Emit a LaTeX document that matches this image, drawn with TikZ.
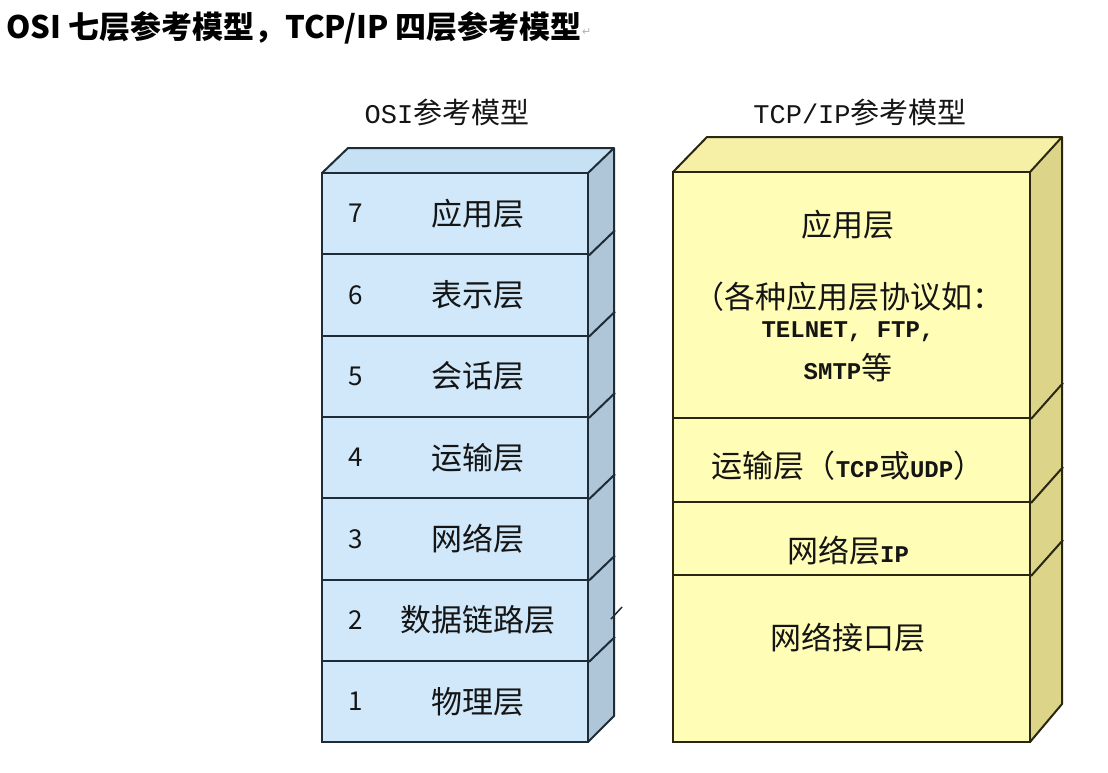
\documentclass[tikz,border=0pt]{standalone}
\usepackage{fontspec}
\setmainfont{Noto Sans CJK SC}
\newfontfamily\cjk{Noto Sans CJK SC}
\newfontfamily\latmono{Liberation Mono}
\newfontfamily\symfont{DejaVu Sans}
\definecolor{osifront}{HTML}{D0E8F9}
\definecolor{osiside}{HTML}{AFC6D8}
\definecolor{ositop}{HTML}{C6E1F3}
\definecolor{osiline}{HTML}{1E2C38}
\definecolor{tcpfront}{HTML}{FFFDB6}
\definecolor{tcpside}{HTML}{DCD488}
\definecolor{tcptop}{HTML}{F6F0A6}
\definecolor{tcpline}{HTML}{2A2612}
\definecolor{txt}{HTML}{151515}
\tikzset{
  osilayer/.style={draw=osiline, fill=osifront, line width=2pt, minimum width=266pt, minimum height=81.3pt, inner sep=0pt},
  tcplayer/.style={draw=tcpline, fill=tcpfront, line width=2pt, minimum width=357pt, inner sep=0pt},
  lbl/.style={font=\cjk\fontsize{31}{33}\selectfont, text=txt, inner sep=0pt},
  num/.style={font=\cjk\fontsize{26}{28}\selectfont, text=txt, inner sep=0pt},
  head/.style={font=\fontsize{29}{31}\selectfont, text=txt, inner sep=0pt},
  monotxt/.style={},
}
\newcommand{\mtxt}[1]{{\latmono\bfseries\fontsize{24}{26}\selectfont #1}}
\begin{document}
\begin{tikzpicture}[x=1pt,y=-1pt]
\useasboundingbox[fill=white] (0,0) rectangle (1108,772);
% main title
\node[anchor=west, inner sep=0pt, font=\cjk\bfseries\fontsize{31}{33}\selectfont] (title) at (6,28) {OSI 七层参考模型，TCP/IP 四层参考模型};
\node[anchor=west, inner sep=0pt, text=gray!60, font=\symfont\fontsize{11}{12}\selectfont] (pmark) at ([yshift=-4pt]title.east) {↵};

% ---------------- OSI model ----------------
\node[head] (osihead) at (447,112) {{\latmono\fontsize{27}{29}\selectfont OSI}参考模型};
% side and top faces
\fill[osiside] (588,173) -- (614,148) -- (614,716) -- (588,742) -- cycle;
\fill[ositop] (322,173) -- (348,148) -- (614,148) -- (588,173) -- cycle;
\draw[osiline, line width=2pt, line join=round] (322,173) -- (348,148) -- (614,148) -- (588,173);
\draw[osiline, line width=2pt, line join=round] (614,148) -- (614,716) -- (588,742);
\foreach \n/\name [count=\i from 0] in {7/应用层,6/表示层,5/会话层,4/运输层,3/网络层,2/数据链路层,1/物理层}{
  \pgfmathsetmacro{\yc}{173+81.3*\i+40.65}
  \node[osilayer] (o\n) at (455,\yc) {};
  \node[num] (on\n) at (356,\yc) {\n};
  \node[lbl] (ol\n) at (478,\yc) {\name};
}
\foreach \n in {7,6,5,4,3,2}{
  \draw[osiline, line width=2pt] (o\n.south east) -- ++(26,-25);
}
\draw[osiline, line width=1.5pt] (611,619) -- (622,607);

% ---------------- TCP/IP model ----------------
\node[head] (tcphead) at (860,112) {{\latmono\fontsize{27}{29}\selectfont TCP/IP}参考模型};
\fill[tcpside] (1030,172) -- (1062,137) -- (1062,704) -- (1030,742) -- cycle;
\fill[tcptop] (673,172) -- (707,137) -- (1062,137) -- (1030,172) -- cycle;
\draw[tcpline, line width=2pt, line join=round] (673,172) -- (707,137) -- (1062,137) -- (1030,172);
\draw[tcpline, line width=2pt, line join=round] (1062,137) -- (1062,704) -- (1030,742);
\node[tcplayer, minimum height=246pt] (t4) at (851.5,295) {};
\node[tcplayer, minimum height=84pt] (t3) at (851.5,460) {};
\node[tcplayer, minimum height=73pt] (t2) at (851.5,538.5) {};
\node[tcplayer, minimum height=167pt] (t1) at (851.5,658.5) {};
\foreach \n in {4,3,2}{
  \draw[tcpline, line width=2pt] (t\n.south east) -- ++(32,-36);
}
\node[lbl] (tl4a) at (848,225) {应用层};
\node[lbl] (tl4b) at (848,297) {（各种应用层协议如：};
\node[inner sep=0pt, text=txt] (tl4c) at (848,332) {\mtxt{TELNET, FTP,}};
\node[lbl] (tl4d) at (848,368) {\mtxt{SMTP}等};
\node[lbl] (tl3) at (848,466) {运输层（\mtxt{TCP}或\mtxt{UDP}）};
\node[lbl] (tl2) at (848,551) {网络层\mtxt{IP}};
\node[lbl] (tl1) at (848,638) {网络接口层};
\end{tikzpicture}
\end{document}
